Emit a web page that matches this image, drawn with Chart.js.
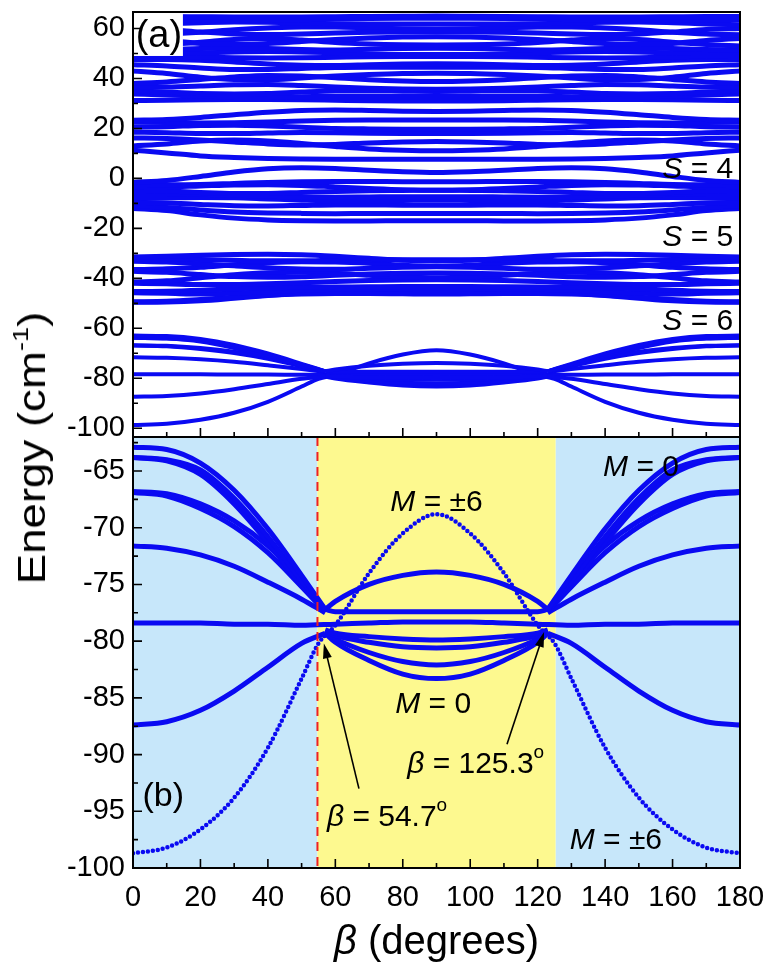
<!DOCTYPE html>
<html>
<head>
<meta charset="utf-8">
<script src="https://cdn.jsdelivr.net/npm/chart.js@4.4.1/dist/chart.umd.min.js"></script>
<style>
  html, body { margin: 0; padding: 0; background: #fff; }
  #wrap { position: relative; width: 768px; height: 964px; overflow: hidden; }
  #panelA { position: absolute; left: 0; top: 0; }
  #panelB { position: absolute; left: 0; top: 430px; }
  #ytitle {
    position: absolute; left: 32px; top: 448px;
    font: 38px 'Liberation Sans', Arial, sans-serif; line-height: 1; white-space: nowrap; color: #000;
    transform: translate(-50%, -50%) rotate(-90deg) scaleX(1.2);
  }
  #ytitle sup { font-size: 0.6em; vertical-align: 0.75em; line-height: 0; }
</style>
</head>
<body>
<div id="wrap">
  <canvas id="panelA" width="768" height="438"></canvas>
  <canvas id="panelB" width="768" height="534"></canvas>
  <div id="ytitle">Energy (cm<sup>-1</sup>)</div>
</div>
<script>
// beta grid used by the full-width curves of panel (a)
const betaFull = [0, 10, 20, 30, 40, 50, 60, 70, 80, 90, 100, 110, 120, 130, 140, 150, 160, 170, 180];

// top band (~50 to 65)
const topBand = [
  [64.8, 64.8, 64.7, 64.6, 64.6, 64.6, 64.7, 64.8, 64.9, 65.0, 64.9, 64.8, 64.7, 64.6, 64.6, 64.6, 64.7, 64.8, 64.8],
  [63.5, 63.4, 63.3, 63.2, 63.3, 63.5, 63.8, 64.0, 64.1, 64.1, 64.1, 64.0, 63.8, 63.5, 63.3, 63.2, 63.3, 63.4, 63.5],
  [61.5, 61.8, 62.3, 62.6, 62.5, 62.2, 61.9, 61.8, 61.8, 61.8, 61.8, 61.8, 61.9, 62.2, 62.5, 62.6, 62.3, 61.8, 61.5],
  [60.0, 59.6, 58.6, 57.8, 57.6, 57.8, 58.2, 58.5, 58.6, 58.6, 58.6, 58.5, 58.2, 57.8, 57.6, 57.8, 58.6, 59.6, 60.0],
  [57.5, 57.8, 58.5, 59.5, 60.2, 60.6, 60.6, 60.2, 59.9, 59.8, 59.9, 60.2, 60.6, 60.6, 60.2, 59.5, 58.5, 57.8, 57.5],
  [56.0, 55.2, 54.0, 53.6, 54.0, 54.8, 55.6, 56.2, 56.6, 56.7, 56.6, 56.2, 55.6, 54.8, 54.0, 53.6, 54.0, 55.2, 56.0],
  [53.0, 53.6, 54.5, 55.6, 56.0, 55.4, 54.4, 53.8, 53.5, 53.4, 53.5, 53.8, 54.4, 55.4, 56.0, 55.6, 54.5, 53.6, 53.0],
  [51.5, 51.6, 52.0, 52.2, 52.0, 51.6, 51.4, 51.7, 52.0, 52.1, 52.0, 51.7, 51.4, 51.6, 52.0, 52.2, 52.0, 51.6, 51.5],
  [50.0, 50.0, 50.2, 50.6, 50.8, 50.6, 50.2, 49.8, 49.6, 49.6, 49.6, 49.8, 50.2, 50.6, 50.8, 50.6, 50.2, 50.0, 50.0]
];

// second band (~31 to 49)
const upperBand = [
  [49.2, 49.0, 48.6, 48.3, 48.2, 48.3, 48.5, 48.7, 48.8, 48.8, 48.8, 48.7, 48.5, 48.3, 48.2, 48.3, 48.6, 49.0, 49.2],
  [47.5, 47.6, 47.3, 46.6, 45.8, 45.3, 45.2, 45.5, 45.8, 45.9, 45.8, 45.5, 45.2, 45.3, 45.8, 46.6, 47.3, 47.6, 47.5],
  [45.5, 45.0, 44.2, 43.6, 43.6, 44.0, 44.4, 44.5, 44.5, 44.5, 44.5, 44.5, 44.4, 44.0, 43.6, 43.6, 44.2, 45.0, 45.5],
  [43.0, 42.0, 40.5, 39.6, 39.5, 40.2, 41.0, 41.6, 42.0, 42.1, 42.0, 41.6, 41.0, 40.2, 39.5, 39.6, 40.5, 42.0, 43.0],
  [38.0, 38.6, 39.6, 40.6, 41.2, 41.0, 40.3, 39.5, 39.0, 38.8, 39.0, 39.5, 40.3, 41.0, 41.2, 40.6, 39.6, 38.6, 38.0],
  [36.5, 36.6, 37.0, 37.5, 37.6, 37.2, 36.6, 36.1, 35.8, 35.7, 35.8, 36.1, 36.6, 37.2, 37.6, 37.5, 37.0, 36.6, 36.5],
  [35.0, 34.6, 34.0, 33.8, 34.0, 34.6, 35.0, 35.0, 34.9, 34.8, 34.9, 35.0, 35.0, 34.6, 34.0, 33.8, 34.0, 34.6, 35.0],
  [33.8, 33.4, 32.9, 32.6, 32.6, 32.7, 32.8, 32.8, 32.8, 32.8, 32.8, 32.8, 32.8, 32.7, 32.6, 32.6, 32.9, 33.4, 33.8],
  [31.2, 31.3, 31.5, 31.6, 31.6, 31.5, 31.3, 31.1, 31.0, 31.0, 31.0, 31.1, 31.3, 31.5, 31.6, 31.6, 31.5, 31.3, 31.2]
];

// third band (~8 to 27)
const s3Band = [
  [23.3, 23.6, 24.4, 25.5, 26.5, 27.2, 27.4, 27.2, 26.9, 26.8, 26.9, 27.2, 27.4, 27.2, 26.5, 25.5, 24.4, 23.6, 23.3],
  [22.5, 22.4, 22.2, 22.3, 22.6, 23.0, 23.3, 23.4, 23.4, 23.4, 23.4, 23.4, 23.3, 23.0, 22.6, 22.3, 22.2, 22.4, 22.5],
  [20.5, 20.7, 21.2, 21.3, 21.0, 20.5, 20.0, 19.8, 19.7, 19.7, 19.7, 19.8, 20.0, 20.5, 21.0, 21.3, 21.2, 20.7, 20.5],
  [18.5, 18.3, 18.0, 18.0, 18.2, 18.4, 18.3, 18.1, 18.0, 18.0, 18.0, 18.1, 18.3, 18.4, 18.2, 18.0, 18.0, 18.3, 18.5],
  [16.2, 16.0, 15.4, 14.6, 13.8, 13.4, 13.6, 14.2, 14.6, 14.8, 14.6, 14.2, 13.6, 13.4, 13.8, 14.6, 15.4, 16.0, 16.2],
  [13.0, 13.8, 15.0, 15.4, 15.0, 14.0, 12.8, 11.8, 11.3, 11.1, 11.3, 11.8, 12.8, 14.0, 15.0, 15.4, 15.0, 13.8, 13.0],
  [11.3, 10.2, 9.0, 8.4, 8.0, 7.8, 7.7, 7.7, 7.7, 7.7, 7.7, 7.7, 7.7, 7.8, 8.0, 8.4, 9.0, 10.2, 11.3]
];

// S = 4 band
const s4Band = [
  [-1.6, -0.8, 0.8, 2.6, 3.9, 4.3, 4.0, 3.3, 2.7, 2.4, 2.7, 3.3, 4.0, 4.3, 3.9, 2.6, 0.8, -0.8, -1.6],
  [-2.4, -2.5, -2.4, -2.0, -1.6, -1.3, -1.2, -1.2, -1.3, -1.3, -1.3, -1.2, -1.2, -1.3, -1.6, -2.0, -2.4, -2.5, -2.4],
  [-3.5, -3.4, -3.0, -2.6, -2.5, -2.8, -3.4, -4.0, -4.5, -4.7, -4.5, -4.0, -3.4, -2.8, -2.5, -2.6, -3.0, -3.4, -3.5],
  [-4.8, -5.0, -5.6, -6.0, -6.0, -5.6, -5.2, -4.9, -4.8, -4.7, -4.8, -4.9, -5.2, -5.6, -6.0, -6.0, -5.6, -5.0, -4.8],
  [-6.2, -6.2, -6.3, -6.7, -7.1, -7.4, -7.5, -7.4, -7.3, -7.3, -7.3, -7.4, -7.5, -7.4, -7.1, -6.7, -6.3, -6.2, -6.2],
  [-8.0, -7.8, -7.6, -7.7, -8.2, -8.7, -9.0, -8.9, -8.8, -8.7, -8.8, -8.9, -9.0, -8.7, -8.2, -7.7, -7.6, -7.8, -8.0],
  [-9.6, -9.8, -10.4, -10.9, -11.0, -10.8, -10.6, -10.6, -10.7, -10.7, -10.7, -10.6, -10.6, -10.8, -11.0, -10.9, -10.4, -9.8, -9.6],
  [-11.0, -11.6, -12.6, -13.4, -13.8, -14.0, -14.1, -14.0, -14.0, -14.0, -14.0, -14.0, -14.1, -14.0, -13.8, -13.4, -12.6, -11.6, -11.0],
  [-12.0, -12.9, -14.6, -15.9, -16.6, -16.9, -17.0, -17.0, -16.9, -16.9, -16.9, -17.0, -17.0, -16.9, -16.6, -15.9, -14.6, -12.9, -12.0]
];

// S = 5 band
const s5Band = [
  [-31.5, -31.2, -30.8, -30.5, -30.4, -30.6, -31.2, -32.0, -32.8, -33.1, -32.8, -32.0, -31.2, -30.6, -30.4, -30.5, -30.8, -31.2, -31.5],
  [-32.2, -32.3, -32.5, -32.8, -33.0, -33.0, -32.7, -32.6, -32.6, -32.6, -32.6, -32.6, -32.7, -33.0, -33.0, -32.8, -32.5, -32.3, -32.2],
  [-33.2, -33.5, -34.2, -35.0, -35.8, -36.3, -36.4, -36.0, -35.6, -35.4, -35.6, -36.0, -36.4, -36.3, -35.8, -35.0, -34.2, -33.5, -33.2],
  [-36.5, -36.2, -35.6, -34.6, -33.8, -33.4, -33.5, -34.0, -34.8, -35.2, -34.8, -34.0, -33.5, -33.4, -33.8, -34.6, -35.6, -36.2, -36.5],
  [-37.2, -37.6, -38.5, -39.3, -39.6, -39.4, -38.8, -38.3, -38.0, -37.9, -38.0, -38.3, -38.8, -39.4, -39.6, -39.3, -38.5, -37.6, -37.2],
  [-41.5, -41.0, -39.8, -38.6, -37.8, -37.6, -38.0, -38.8, -39.5, -39.8, -39.5, -38.8, -38.0, -37.6, -37.8, -38.6, -39.8, -41.0, -41.5],
  [-42.0, -42.2, -42.5, -42.5, -42.2, -41.8, -41.3, -40.9, -40.7, -40.6, -40.7, -40.9, -41.3, -41.8, -42.2, -42.5, -42.5, -42.2, -42.0],
  [-45.3, -45.2, -44.8, -44.2, -43.8, -43.6, -43.5, -43.4, -43.3, -43.3, -43.3, -43.4, -43.5, -43.6, -43.8, -44.2, -44.8, -45.2, -45.3],
  [-45.8, -46.0, -46.3, -46.0, -45.4, -44.8, -44.4, -44.2, -44.1, -44.1, -44.1, -44.2, -44.4, -44.8, -45.4, -46.0, -46.3, -46.0, -45.8],
  [-49.4, -49.2, -48.5, -47.6, -46.8, -46.3, -46.1, -46.1, -46.2, -46.3, -46.2, -46.1, -46.1, -46.3, -46.8, -47.6, -48.5, -49.2, -49.4],
  [-49.6, -49.5, -49.0, -48.0, -46.9, -46.0, -45.5, -45.3, -45.2, -45.2, -45.2, -45.3, -45.5, -46.0, -46.9, -48.0, -49.0, -49.5, -49.6]
];

// S = 6 multiplet (shown in both panels), split into left / middle / right pieces
const betaLeft = [0, 10, 20, 30, 40, 50, 57];
const s6Left = [
  [-62.9, -63.1, -64.3, -66.7, -70.1, -74.2, -77.2],
  [-63.8, -64.0, -64.9, -67.4, -70.8, -74.7, -77.2],
  [-63.8, -64.1, -65.3, -67.9, -71.3, -75.1, -77.3],
  [-66.8, -67.0, -67.9, -69.4, -71.6, -74.6, -77.3],
  [-66.9, -67.2, -68.3, -69.9, -72.2, -75.2, -77.4],
  [-71.6, -71.8, -72.4, -73.4, -74.8, -76.3, -77.5],
  [-87.4, -87.1, -86.1, -84.4, -82.3, -80.2, -79.3]
];
const betaMid = [57, 60, 70, 80, 90, 100, 110, 120, 123];
const s6Mid = [
  [-77.2, -76.5, -75.0, -74.2, -73.9, -74.2, -75.0, -76.5, -77.2],
  [-77.2, -77.4, -77.4, -77.4, -77.4, -77.4, -77.4, -77.4, -77.2],
  [-79.0, -79.3, -79.6, -79.8, -79.9, -79.8, -79.6, -79.3, -79.0],
  [-79.1, -79.5, -80.1, -80.5, -80.6, -80.5, -80.1, -79.5, -79.1],
  [-79.2, -79.8, -81.0, -81.8, -82.1, -81.8, -81.0, -79.8, -79.2],
  [-79.3, -80.1, -81.7, -82.9, -83.3, -82.9, -81.7, -80.1, -79.3]
];
const betaRight = [123, 130, 140, 150, 160, 170, 180];
const s6Right = [
  [-77.2, -74.2, -70.1, -66.7, -64.3, -63.1, -62.9],
  [-77.2, -74.7, -70.8, -67.4, -64.9, -64.0, -63.8],
  [-77.3, -75.1, -71.3, -67.9, -65.3, -64.1, -63.8],
  [-77.3, -74.6, -71.6, -69.4, -67.9, -67.0, -66.8],
  [-77.4, -75.2, -72.2, -69.9, -68.3, -67.2, -66.9],
  [-77.5, -76.3, -74.8, -73.4, -72.4, -71.8, -71.6],
  [-79.3, -80.2, -82.3, -84.4, -86.1, -87.1, -87.4]
];
// nearly flat level through the whole range
const s6Flat = [-78.4, -78.4, -78.4, -78.5, -78.5, -78.6, -78.5, -78.4, -78.3, -78.3, -78.3, -78.4, -78.5, -78.6, -78.5, -78.5, -78.4, -78.4, -78.4];
// M = ±6 level: bottom at the edges, top arc at 90
const betaG = [0, 10, 20, 30, 40, 50, 55, 60, 70, 80, 90, 100, 110, 120, 125, 130, 140, 150, 160, 170, 180];
const s6Top = [-98.7, -98.2, -96.6, -93.8, -89.4, -83.3, -80.2, -78.6, -74.0, -70.5, -68.8, -70.5, -74.0, -78.6, -80.2, -83.3, -89.4, -93.8, -96.6, -98.2, -98.7];

// axis tick positions
const xTicks = { step: 20, minor: 10 };
const yTicksA = { from: -100, to: 60, major: 20, minor: 10 };
const yTicksB = { from: -100, to: -62.5, major: 5, minor: 2.5 };

const BLUE = 'rgb(10,10,242)';
const FONT = "'Liberation Sans', Arial, sans-serif";
const tickFont = { family: FONT, size: 29, lineHeight: 1 };

function curve(xs, ys, width, extra) {
  return Object.assign({
    data: xs.map((x, i) => ({ x: x, y: ys[i] })),
    borderColor: BLUE, borderWidth: width, pointRadius: 0, fill: false,
    cubicInterpolationMode: 'monotone'
  }, extra || {});
}

function s6Sets(width, topExtra) {
  return [].concat(
    s6Left.map(ys => curve(betaLeft, ys, width)),
    s6Mid.map(ys => curve(betaMid, ys, width)),
    s6Right.map(ys => curve(betaRight, ys, width)),
    [curve(betaFull, s6Flat, width), curve(betaG, s6Top, width, topExtra)]
  );
}

const setsA = [].concat(
  [].concat(topBand, upperBand, s3Band, s4Band, s5Band).map(ys => curve(betaFull, ys, 5)),
  s6Sets(4)
);
const setsB = s6Sets(5, { borderDash: [0, 5], borderCapStyle: 'round', borderWidth: 4.5 });

// text with mixed italic / upright runs
function drawParts(ctx, parts, x, y, align, size) {
  const fonts = parts.map(p => (p.it ? 'italic ' : '') + (p.sz || size) + 'px ' + FONT);
  const widths = parts.map((p, i) => { ctx.font = fonts[i]; return ctx.measureText(p.t).width; });
  const total = widths.reduce((a, b) => a + b, 0);
  let cx = align === 'center' ? x - total / 2 : align === 'right' ? x - total : x;
  ctx.textAlign = 'left';
  ctx.textBaseline = 'alphabetic';
  ctx.fillStyle = '#000';
  parts.forEach((p, i) => {
    ctx.font = fonts[i];
    ctx.fillText(p.t, cx, y + (p.dy || 0));
    cx += widths[i];
  });
}

function drawTicks(chart, yt) {
  const ctx = chart.ctx, a = chart.chartArea;
  const xs = chart.scales.x, ys = chart.scales.y;
  ctx.save();
  ctx.strokeStyle = '#000';
  ctx.lineWidth = 1.6;
  ctx.beginPath();
  for (let v = 0; v <= 180; v += xTicks.minor) {
    const px = xs.getPixelForValue(v);
    ctx.moveTo(px, a.bottom);
    ctx.lineTo(px, a.bottom - (v % xTicks.step === 0 ? 9 : 5));
  }
  for (let v = yt.from; v <= yt.to + 1e-6; v += yt.minor) {
    const py = ys.getPixelForValue(v);
    const r = v / yt.major;
    ctx.moveTo(a.left, py);
    ctx.lineTo(a.left + (Math.abs(r - Math.round(r)) < 1e-6 ? 9 : 5), py);
  }
  ctx.stroke();
  ctx.lineWidth = 2;
  ctx.strokeRect(a.left, a.top, a.right - a.left, a.bottom - a.top);
  ctx.restore();
}

function drawArrow(chart, x0, y0, x1, y1) {
  const ctx = chart.ctx, xs = chart.scales.x, ys = chart.scales.y;
  const ax = xs.getPixelForValue(x0), ay = ys.getPixelForValue(y0);
  const bx = xs.getPixelForValue(x1), by = ys.getPixelForValue(y1);
  const ang = Math.atan2(by - ay, bx - ax);
  const len = 15, half = 4.5;
  ctx.save();
  ctx.strokeStyle = '#000';
  ctx.fillStyle = '#000';
  ctx.lineWidth = 1.6;
  ctx.beginPath();
  ctx.moveTo(ax, ay);
  ctx.lineTo(bx - Math.cos(ang) * len * 0.8, by - Math.sin(ang) * len * 0.8);
  ctx.stroke();
  ctx.beginPath();
  ctx.moveTo(bx, by);
  ctx.lineTo(bx - Math.cos(ang) * len + Math.sin(ang) * half, by - Math.sin(ang) * len - Math.cos(ang) * half);
  ctx.lineTo(bx - Math.cos(ang) * len - Math.sin(ang) * half, by - Math.sin(ang) * len + Math.cos(ang) * half);
  ctx.closePath();
  ctx.fill();
  ctx.restore();
}

function label(chart, parts, bx, ev, align, size) {
  const px = chart.scales.x.getPixelForValue(bx);
  const py = chart.scales.y.getPixelForValue(ev);
  drawParts(chart.ctx, parts, px, py, align, size);
}

const decorA = {
  id: 'decorA',
  afterDatasetsDraw(chart) {
    const ctx = chart.ctx, xs = chart.scales.x, ys = chart.scales.y;
    // white box behind "(a)"
    ctx.save();
    ctx.fillStyle = '#fff';
    const x0 = xs.getPixelForValue(0), x1 = xs.getPixelForValue(14.8);
    const y0 = ys.getPixelForValue(66.6), y1 = ys.getPixelForValue(49.0);
    ctx.fillRect(x0, y0, x1 - x0, y1 - y0);
    ctx.restore();
    drawTicks(chart, yTicksA);
    label(chart, [{ t: '(a)' }], 0.8, 52.5, 'left', 38);
    label(chart, [{ t: 'S', it: true }, { t: ' = 4' }], 178, 0.0, 'right', 30);
    label(chart, [{ t: 'S', it: true }, { t: ' = 5' }], 178, -27.2, 'right', 30);
    label(chart, [{ t: 'S', it: true }, { t: ' = 6' }], 178, -60.6, 'right', 30);
  }
};

const decorB = {
  id: 'decorB',
  beforeDatasetsDraw(chart) {
    const ctx = chart.ctx, a = chart.chartArea, xs = chart.scales.x;
    const p0 = xs.getPixelForValue(0), p1 = xs.getPixelForValue(54.7);
    const p2 = xs.getPixelForValue(125.3), p3 = xs.getPixelForValue(180);
    ctx.save();
    ctx.fillStyle = '#c7e7fa';
    ctx.fillRect(p0, a.top, p1 - p0, a.bottom - a.top);
    ctx.fillRect(p2, a.top, p3 - p2, a.bottom - a.top);
    ctx.fillStyle = '#fdf98f';
    ctx.fillRect(p1, a.top, p2 - p1, a.bottom - a.top);
    ctx.restore();
  },
  afterDatasetsDraw(chart) {
    const ctx = chart.ctx, a = chart.chartArea, xs = chart.scales.x;
    const px = xs.getPixelForValue(54.7);
    ctx.save();
    ctx.strokeStyle = '#f02020';
    ctx.lineWidth = 2;
    ctx.setLineDash([9, 6]);
    ctx.beginPath();
    ctx.moveTo(px, a.top);
    ctx.lineTo(px, a.bottom);
    ctx.stroke();
    ctx.restore();
    drawTicks(chart, yTicksB);
    drawArrow(chart, 67.0, -93.0, 56.6, -80.2);
    drawArrow(chart, 110.9, -89.1, 121.9, -79.2);
    label(chart, [{ t: 'M', it: true }, { t: ' = 0' }], 139.4, -65.4, 'left', 30);
    label(chart, [{ t: 'M', it: true }, { t: ' = \u00b16' }], 90, -68.5, 'center', 30);
    label(chart, [{ t: 'M', it: true }, { t: ' = 0' }], 89, -86.3, 'center', 30);
    label(chart, [{ t: '\u03b2', it: true }, { t: ' = 125.3' }, { t: 'o', sz: 19, dy: -15 }], 81.3, -91.6, 'left', 30);
    label(chart, [{ t: '\u03b2', it: true }, { t: ' = 54.7' }, { t: 'o', sz: 19, dy: -15 }], 57.5, -96.3, 'left', 30);
    label(chart, [{ t: 'M', it: true }, { t: ' = \u00b16' }], 129.5, -98.3, 'left', 30);
    label(chart, [{ t: '(b)' }], 2.8, -94.5, 'left', 34);
    // x-axis title
    drawParts(ctx, [{ t: '\u03b2', it: true }, { t: ' (degrees)' }], xs.getPixelForValue(90), 524, 'center', 40);
  }
};

function fitY(s) { s.width = 133; s.paddingTop = 0; s.paddingBottom = 0; }
function fitX(s) { s.height = 96; s.paddingLeft = 0; s.paddingRight = 0; }

const common = {
  responsive: false,
  animation: false,
  events: [],
  plugins: { legend: { display: false }, tooltip: { enabled: false } }
};

new Chart(document.getElementById('panelA'), {
  type: 'line',
  data: { datasets: setsA },
  options: Object.assign({}, common, {
    layout: { padding: { top: 12, right: 28, bottom: 1, left: 0 } },
    scales: {
      x: { type: 'linear', min: 0, max: 180, display: false },
      y: {
        type: 'linear', min: -103.5, max: 66.6, afterFit: fitY,
        grid: { display: false, drawTicks: false }, border: { display: false },
        ticks: { stepSize: 20, includeBounds: false, padding: 8, color: '#000', font: tickFont }
      }
    }
  }),
  plugins: [decorA]
});

new Chart(document.getElementById('panelB'), {
  type: 'line',
  data: { datasets: setsB },
  options: Object.assign({}, common, {
    layout: { padding: { top: 7, right: 28, bottom: 0, left: 0 } },
    scales: {
      x: {
        type: 'linear', min: 0, max: 180, afterFit: fitX,
        grid: { display: false, drawTicks: false }, border: { display: false },
        ticks: { stepSize: 20, includeBounds: false, padding: 15, color: '#000', font: tickFont, maxRotation: 0 }
      },
      y: {
        type: 'linear', min: -100, max: -62, afterFit: fitY,
        grid: { display: false, drawTicks: false }, border: { display: false },
        ticks: { stepSize: 5, includeBounds: false, padding: 8, color: '#000', font: tickFont }
      }
    }
  }),
  plugins: [decorB]
});
</script>
</body>
</html>
